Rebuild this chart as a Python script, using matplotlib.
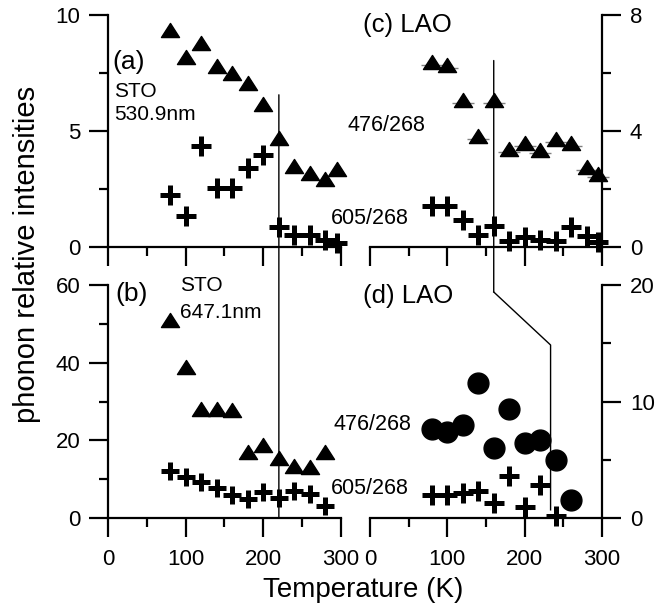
import numpy as np
import matplotlib
matplotlib.use("Agg")
import matplotlib.pyplot as plt
from matplotlib.path import Path
from matplotlib.patches import ConnectionPatch
from matplotlib.ticker import MultipleLocator

plt.rcParams['font.family'] = ['Liberation Sans', 'DejaVu Sans']

# ---- data ----
# (a) STO 530.9nm
T_a = [80, 100, 120, 140, 160, 180, 200, 220, 240, 260, 280, 295]
a_476 = [9.35, 8.2, 8.78, 7.8, 7.52, 7.06, 6.17, 4.69, 3.47, 3.18, 2.93, 3.37]
a_605 = [2.25, 1.35, 4.36, 2.54, 2.54, 3.4, 3.97, 0.86, 0.53, 0.53, 0.3, 0.17]
# (b) STO 647.1nm
T_b = [80, 100, 120, 140, 160, 180, 200, 220, 240, 260, 280]
b_476 = [51, 39, 28, 28, 27.8, 17, 18.8, 15.4, 13.5, 13.1, 17.1]
b_605 = [12, 10.6, 9.2, 7.6, 6.0, 4.9, 6.6, 5.1, 7.0, 6.1, 3.1]
# (c) LAO
T_c = [80, 100, 120, 140, 160, 180, 200, 220, 240, 260, 280, 295]
c_476 = [6.39, 6.29, 5.06, 3.82, 5.06, 3.37, 3.58, 3.34, 3.72, 3.58, 2.76, 2.53]
c_605 = [1.4, 1.4, 0.94, 0.42, 0.71, 0.2, 0.34, 0.23, 0.2, 0.68, 0.37, 0.16]
# (d) LAO
T_d476 = [80, 100, 120, 140, 160, 180, 200, 220, 240, 260]
d_476 = [7.63, 7.34, 7.97, 11.6, 6.0, 9.34, 6.43, 6.71, 4.94, 1.51]
T_d605 = [80, 100, 120, 140, 160, 180, 200, 220, 240]
d_605 = [2.0, 2.0, 2.14, 2.29, 1.29, 3.57, 0.94, 2.86, 0.14]

# guide lines
sto_T = 220
sto_top = 6.56
lao_T = [160, 160, 233.5, 233.5]
lao_y = [6.43, 19.4, 14.85, 0.7]

W, H = 669, 607
fig = plt.figure(figsize=(W / 100, H / 100), dpi=100)

def px_axes(x0, x1, ybot, ytop):
    return fig.add_axes([x0 / W, 1 - ybot / H, (x1 - x0) / W, (ybot - ytop) / H])

ax_a = px_axes(108, 341, 247, 15)
ax_c = px_axes(370, 602, 247, 15)
ax_b = px_axes(108, 341, 518, 285)
ax_d = px_axes(370, 602, 518, 285)

tri = Path([(0, 0.78), (-1, -0.78), (1, -0.78), (0, 0.78)],
           [Path.MOVETO, Path.LINETO, Path.LINETO, Path.CLOSEPOLY])
base = Path([(-1, -0.25), (1, -0.25)], [Path.MOVETO, Path.LINETO])

def style(ax, ymax, ymaj, ymin, right=False, xlabels=False):
    ax.set_xlim(0, 300)
    ax.set_ylim(0, ymax)
    ax.spines['top'].set_visible(False)
    if right:
        ax.spines['left'].set_visible(False)
        ax.yaxis.tick_right()
    else:
        ax.spines['right'].set_visible(False)
    for s in ax.spines.values():
        s.set_linewidth(1.6)
    ax.xaxis.set_major_locator(MultipleLocator(100))
    ax.xaxis.set_minor_locator(MultipleLocator(50))
    ax.yaxis.set_major_locator(MultipleLocator(ymaj))
    ax.yaxis.set_minor_locator(MultipleLocator(ymin))
    ax.tick_params(which='major', direction='out', length=14, width=1.6, labelsize=16)
    ax.tick_params(which='minor', direction='out', length=6.5, width=1.6)
    ax.tick_params(axis='x', pad=8)
    ax.tick_params(axis='y', pad=6)
    if not xlabels:
        ax.tick_params(axis='x', labelbottom=False)
    ax.set_facecolor('none')

style(ax_a, 10, 5, 2.5)
style(ax_c, 8, 4, 2, right=True)
style(ax_b, 60, 20, 10, xlabels=True)
style(ax_d, 20, 10, 5, right=True, xlabels=True)

kw_tri = dict(ls='none', marker=tri, ms=13, color='k', clip_on=False, zorder=3)
kw_plus = dict(ls='none', marker='+', ms=15, mew=3.6, color='k', clip_on=False, zorder=3)

ax_a.plot(T_a, a_476, **kw_tri)
ax_a.plot(T_a, a_605, **kw_plus)

ax_c.plot(T_c, c_476, ls='none', marker=base, ms=16, mew=1, color='0.5',
          clip_on=False, zorder=2)
ax_c.plot(T_c, c_476, **kw_tri)
ax_c.plot(T_c, c_605, **kw_plus)

ax_b.plot(T_b, b_476, **kw_tri)
ax_b.plot(T_b, b_605, **dict(kw_plus, ms=13))

ax_d.plot(T_d476, d_476, ls='none', marker='o', ms=15, color='k', clip_on=False, zorder=3)
ax_d.plot(T_d605, d_605, **kw_plus)

# vertical guide lines across panels
con = ConnectionPatch(xyA=(sto_T, sto_top), coordsA=ax_a.transData,
                      xyB=(sto_T, 0), coordsB=ax_b.transData, color='k', lw=1)
fig.add_artist(con)
con2 = ConnectionPatch(xyA=(lao_T[0], lao_y[0]), coordsA=ax_c.transData,
                       xyB=(lao_T[1], lao_y[1]), coordsB=ax_d.transData, color='k', lw=1)
fig.add_artist(con2)
ax_d.plot(lao_T[1:], lao_y[1:], color='k', lw=1, clip_on=False, zorder=1)

# labels
def ftext(x, y, s, fs=15):
    fig.text(x / W, 1 - y / H, s, fontsize=fs, ha='left', va='baseline')

ftext(112, 69, "(a)", 19)
ftext(114, 97, "STO")
ftext(114, 120, "530.9nm")
ftext(363, 32, "(c) LAO", 18.5)
ftext(348, 131, "476/268", 15.5)
ftext(331, 224, "605/268", 15.5)
ftext(115, 301, "(b)", 19)
ftext(180, 291, "STO")
ftext(180, 318, "647.1nm")
ftext(363, 303, "(d) LAO", 18.5)
ftext(333, 430, "476/268", 15.5)
ftext(331, 494, "605/268", 15.5)

fig.text(363 / W, 1 - 597 / H, "Temperature (K)", fontsize=20, ha='center', va='baseline')
fig.text(27 / W, 1 - 254 / H, "phonon relative intensities", fontsize=21,
         rotation=90, ha='center', va='center')

fig.savefig("out.png", dpi=100)
